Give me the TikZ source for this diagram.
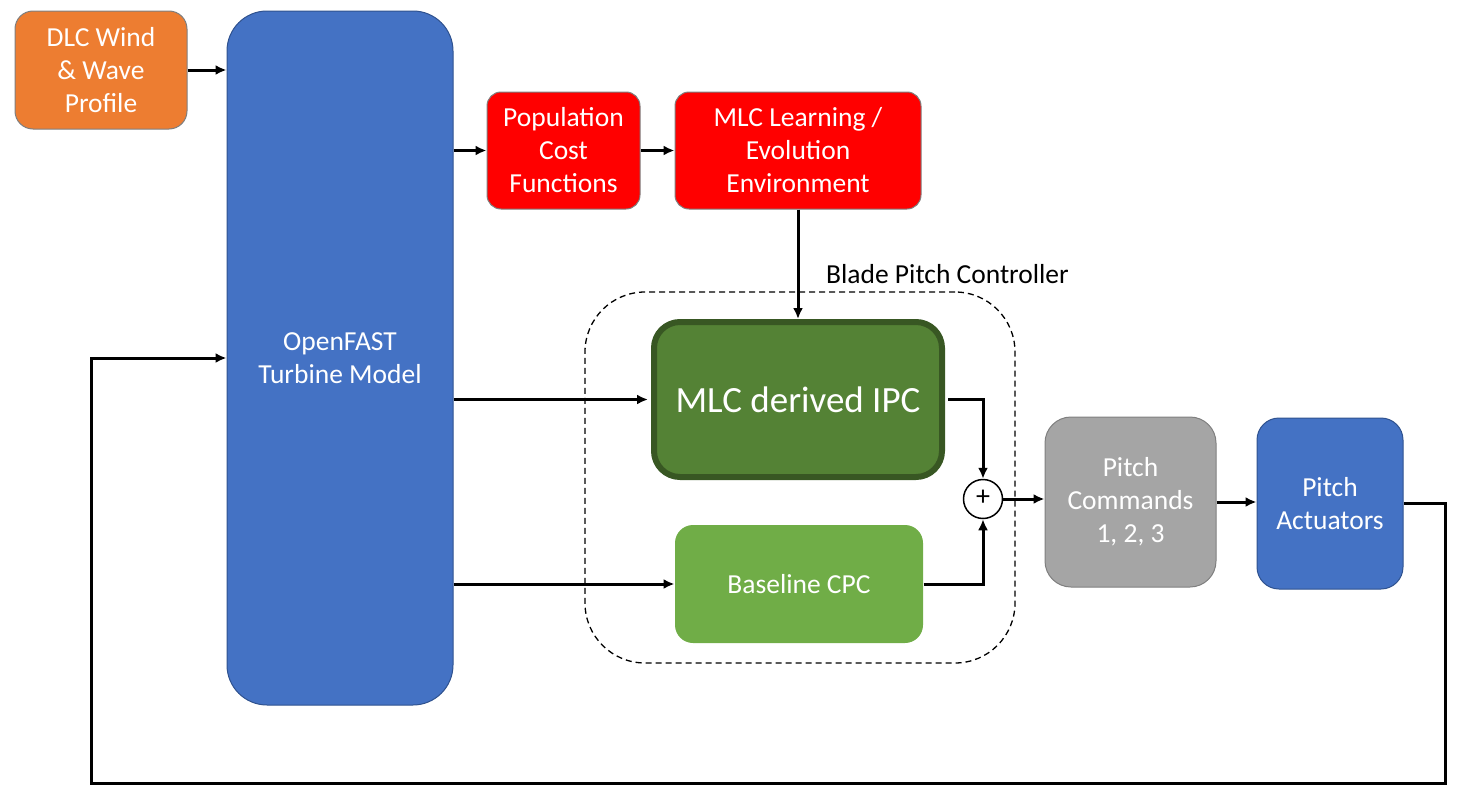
\documentclass[tikz,border=0pt]{standalone}
\usepackage{fontspec}
\setmainfont{Carlito}
\usetikzlibrary{arrows.meta}
\definecolor{cOrange}{HTML}{ED7D31}
\definecolor{cBlue}{HTML}{4472C4}
\definecolor{cBlueB}{HTML}{2F528F}
\definecolor{cRed}{HTML}{FF0000}
\definecolor{cGray}{HTML}{A5A5A5}
\definecolor{cGrayB}{HTML}{7F7F7F}
\definecolor{cDGreen}{HTML}{548235}
\definecolor{cDGreenB}{HTML}{385723}
\definecolor{cLGreen}{HTML}{70AD47}
\tikzset{
  box/.style={rectangle, rounded corners=18, align=center, text=white, inner sep=0,
    font=\fontsize{27.5}{33}\selectfont, line width=1},
  conn/.style={line width=3, -{Latex[length=11,width=10]}},
}
\begin{document}
\begin{tikzpicture}[x=1pt,y=-1pt]
\useasboundingbox (0,0) rectangle (1462,803);
% container
\node[draw, line width=1.3, dash pattern=on 6 off 4, rounded corners=60, rectangle,
  minimum width=430, minimum height=371, inner sep=0] (bpc) at (800,477.5) {};
\node[font=\fontsize{27.5}{30}\selectfont, anchor=base west, inner sep=0] (bpclbl) at (826,283) {Blade Pitch Controller};
% boxes
\node[box, fill=cOrange, draw=cGrayB, minimum width=172, minimum height=118] (dlc) at (101,70) {DLC Wind\\ \& Wave\\ Profile};
\node[box, fill=cBlue, draw=cBlueB, rounded corners=40, minimum width=226, minimum height=694] (fast) at (340,358) {OpenFAST\\ Turbine Model};
\node[box, fill=cRed, draw=cGrayB, rounded corners=14, minimum width=153, minimum height=117] (pop) at (563.5,150.5) {Population\\ Cost\\ Functions};
\node[box, fill=cRed, draw=cGrayB, rounded corners=14, minimum width=246, minimum height=117] (mlc) at (798,150.5) {MLC Learning /\\ Evolution\\ Environment};
\node[box, fill=cDGreen, draw=cDGreenB, line width=6, rounded corners=26, minimum width=288, minimum height=155,
  font=\fontsize{37}{40}\selectfont] (ipc) at (798,399.5) {MLC derived IPC};
\node[box, fill=cLGreen, draw=none, rounded corners=18, minimum width=248, minimum height=118] (cpc) at (799,584) {Baseline CPC};
\node[circle, draw, line width=1.5, fill=white, minimum size=39, inner sep=0] (sum) at (983,499) {};
\node[font=\fontsize{28}{28}\selectfont, inner sep=0] (plus) at (983,498) {+};
\node[box, fill=cGray, draw=cGrayB, rounded corners=26, minimum width=171, minimum height=170] (cmd) at (1130.5,502) {Pitch\\ Commands\\ 1, 2, 3};
\node[box, fill=cBlue, draw=cBlueB, rounded corners=22, minimum width=146, minimum height=171] (act) at (1330,503.5) {Pitch\\ Actuators};
% feedback corners
\coordinate (fbR) at (1445,783);
\coordinate (fbL) at (91,783);
% connectors
\draw[conn] (dlc.east) -- (dlc.east -| fast.west);
\draw[conn] (fast.east |- pop.west) -- (pop.west);
\draw[conn] (pop.east) -- (mlc.west);
\draw[conn] (mlc.south) -- (ipc.north);
\draw[conn] (fast.east |- ipc.west) -- ([xshift=-3]ipc.west);
\draw[conn] (fast.east |- cpc.west) -- (cpc.west);
\draw[conn] ([xshift=3]ipc.east) -| (sum.north);
\draw[conn] (cpc.east) -| (sum.south);
\draw[conn] (sum.east) -- (sum.east -| cmd.west);
\draw[conn] (cmd.east) -- (cmd.east -| act.west);
\draw[conn] (act.east) -| (fbR) -- (fbL) |- (fast.west);
\end{tikzpicture}
\end{document}
